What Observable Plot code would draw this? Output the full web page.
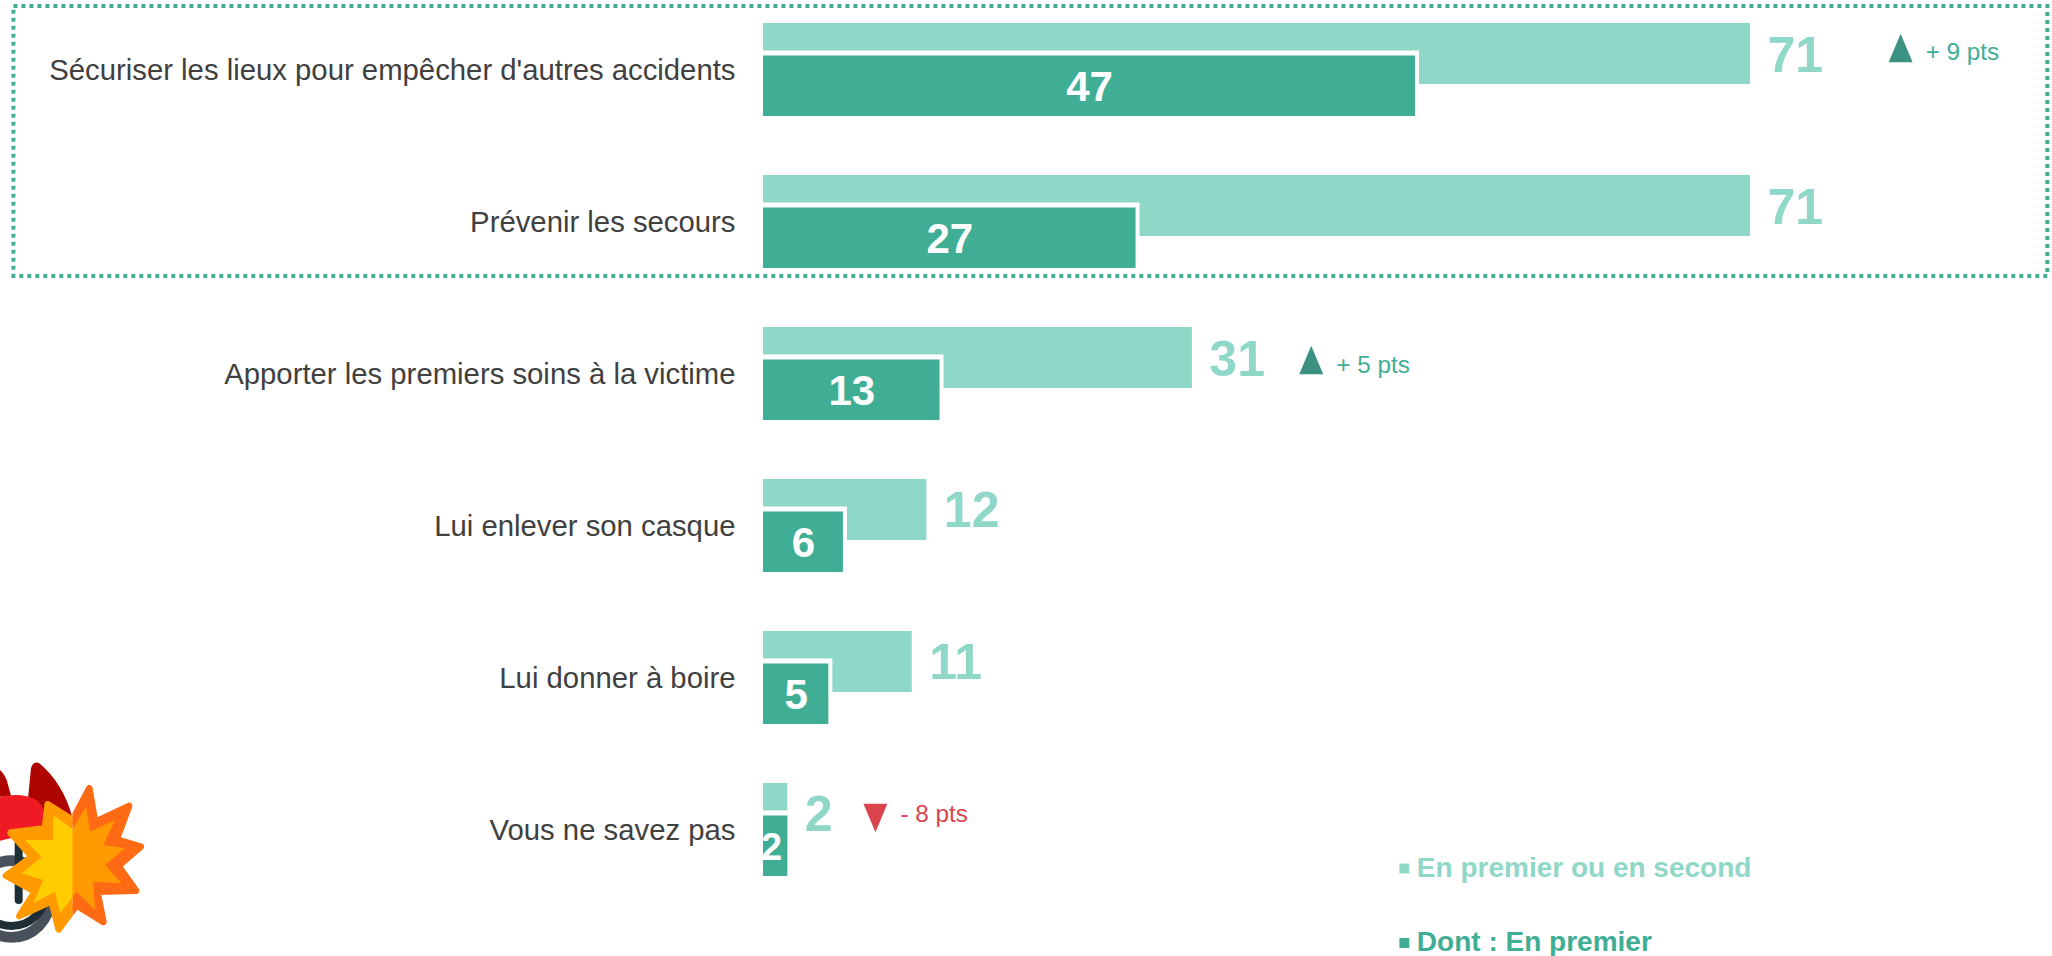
<!DOCTYPE html>
<html lang="fr">
<head>
<meta charset="utf-8">
<script src="https://cdn.jsdelivr.net/npm/d3@7"></script>
<script src="https://cdn.jsdelivr.net/npm/@observablehq/plot@0.6"></script>
<style>
html,body{margin:0;padding:0;background:#fff}
svg{display:block}
</style>
</head>
<body>
<div id="chart"></div>
<script>
const categories = [
  "Sécuriser les lieux pour empêcher d'autres accidents",
  "Prévenir les secours",
  "Apporter les premiers soins à la victime",
  "Lui enlever son casque",
  "Lui donner à boire",
  "Vous ne savez pas"
];
const barTotal = [71, 71, 30.85, 11.75, 10.7, 1.75];
const barFirst = [46.9, 26.8, 12.7, 5.75, 4.7, 1.75];
const labelTotal = ["71", "71", "31", "12", "11", "2"];
const labelFirst = ["47", "27", "13", "6", "5", "2"];

const deltaRows = [0, 2, 5];
const deltaPos = [81.8, 39.4, 8.05];
const deltaText = ["+ 9 pts", "+ 5 pts", "- 8 pts"];
const deltaDir = [1, 1, -1];

const legendLabels = ["En premier ou en second", "Dont : En premier"];

const LIGHT = "#8fd7c7", DARK = "#3fae94", UP = "#3d9180", DOWN = "#d9444d", INK = "#404040";
const FONT = "'Liberation Sans', Arial, sans-serif";

const rows = categories.map((c, i) => ({c, total: barTotal[i], first: barFirst[i], lt: labelTotal[i], lf: labelFirst[i]}));
const deltas = deltaRows.map((r, i) => ({c: categories[r], x: deltaPos[i], t: deltaText[i], d: deltaDir[i]}));
const triangleShift = [-22, -14, -12];
const deltaTextShift = [-17.5, -8.5, -16];

const triUp = {draw(ctx, size) { const s = Math.sqrt(size); ctx.moveTo(0, -s * 0.6); ctx.lineTo(s * 0.5, s * 0.6); ctx.lineTo(-s * 0.5, s * 0.6); ctx.closePath(); }};
const triDown = {draw(ctx, size) { const s = Math.sqrt(size); ctx.moveTo(0, s * 0.6); ctx.lineTo(s * 0.5, -s * 0.6); ctx.lineTo(-s * 0.5, -s * 0.6); ctx.closePath(); }};

const starOuter = "268,145 285,246 387,198 350,298 422,320 355,378 408,452 292,455 310,546 230,496 176,568 155,484 58,528 105,455 18,407 96,350 32,278 135,265 143,193 218,240";
const starInner = "258,200 270,275 345,240 310,315 375,325 315,375 365,430 280,425 285,510 230,455 180,520 165,455 100,490 130,420 65,400 125,352 75,300 160,300 160,225 218,268";
function icon() {
  const g = d3.create("svg:g").attr("transform", "translate(0,740) scale(0.33333)");
  g.html(`
    <defs>
      <clipPath id="halfL"><rect x="-40" y="100" width="258" height="520"/></clipPath>
      <clipPath id="halfR"><rect x="218" y="100" width="258" height="520"/></clipPath>
      <clipPath id="lowerRing"><rect x="-40" y="440" width="300" height="200"/></clipPath>
    </defs>
    <path d="M0,90 Q12,100 20,120 L34,170 L0,170Z" fill="#ae0500"/>
    <path d="M84,175 L93,85 Q100,60 118,70 Q190,130 218,235 L130,230Z" fill="#ae0500"/>
    <path d="M0,172 Q60,155 110,180 Q135,200 135,240 L135,280 L50,290 L0,302Z" fill="#f01a24"/>
    <circle cx="35" cy="477" r="115" fill="none" stroke="#47505b" stroke-width="32"/>
    <circle cx="35" cy="455" r="103" fill="none" stroke="#1f2f38" stroke-width="24" clip-path="url(#lowerRing)"/>
    <path d="M56,310 L56,480" stroke="#1f2f38" stroke-width="24" stroke-linecap="round"/>
    <g stroke-width="20" stroke-linejoin="round">
      <polygon points="${starOuter}" fill="#ff9a00" stroke="#ff9a00" clip-path="url(#halfL)"/>
      <polygon points="${starOuter}" fill="#ff6a14" stroke="#ff6a14" clip-path="url(#halfR)"/>
    </g>
    <polygon points="${starInner}" fill="#ffcc00" clip-path="url(#halfL)"/>
    <polygon points="${starInner}" fill="#ff9a00" clip-path="url(#halfR)"/>`);
  return g.node();
}

const chart = Plot.plot({
  width: 2052,
  height: 956,
  marginTop: 0, marginRight: 0, marginBottom: 0, marginLeft: 0,
  style: {fontFamily: FONT, background: "#fff"},
  x: {domain: [0, 71], range: [763, 1750], axis: null},
  y: {domain: categories, range: [23, 876], paddingInner: 0.388, paddingOuter: 0, round: false, label: null, axis: null},
  marks: [
    Plot.barX([0], {x1: -53.92, x2: 92.39, y: () => categories[0], insetTop: -17, insetBottom: -160, fill: "none", stroke: DARK, strokeWidth: 4, strokeDasharray: "4 4"}),
    Plot.barX(rows, {x1: 0, x2: "total", y: "c", insetBottom: 32, fill: LIGHT}),
    Plot.barX(rows.filter(d => d.first !== d.total), {x1: 0, x2: "first", y: "c", insetTop: 27.5, insetRight: -4, fill: "#fff"}),
    Plot.barX(rows.slice(-1), {x1: 0, x2: "first", y: "c", insetTop: 27.5, fill: "#fff"}),
    Plot.barX(rows, {x1: 0, x2: "first", y: "c", insetTop: 32.5, fill: DARK}),
    Plot.text(rows, {x: 0, y: "c", text: "c", dx: -28, dy: 1, textAnchor: "end", fontSize: 29.3, fill: INK}),
    Plot.text(rows, {x: "total", y: "c", text: "lt", dx: 17, dy: -14.5, textAnchor: "start", fontSize: 50, fontWeight: "bold", fill: LIGHT}),
    Plot.text(rows.slice(0, -1), {x: d => d.first / 2, y: "c", text: "lf", dy: 18, fontSize: 42, fontWeight: "bold", fill: "#fff"}),
    Plot.text(rows.slice(-1), {x: d => d.first / 2, y: "c", text: "lf", dx: -4, dy: 18, fontSize: 38, fontWeight: "bold", fill: "#fff"}),
    ...deltas.flatMap((d, i) => [
      Plot.dot([d], {x: "x", y: "c", dy: triangleShift[i], symbol: d.d > 0 ? triUp : triDown, r: 13.5, fill: d.d > 0 ? UP : DOWN, stroke: "none"}),
      Plot.text([d], {x: "x", y: "c", text: "t", dx: 25, dy: deltaTextShift[i], textAnchor: "start", fontSize: 24.3, fill: d.d > 0 ? DARK : DOWN})
    ]),
    Plot.dot([legendLabels[0]], {x: 46.1, y: () => categories[5], dy: 38.5, symbol: "square", r: 5.6, fill: LIGHT, stroke: "none"}),
    Plot.dot([legendLabels[1]], {x: 46.1, y: () => categories[5], dy: 113, symbol: "square", r: 5.6, fill: DARK, stroke: "none"}),
    Plot.text([legendLabels[0]], {x: 47, y: () => categories[5], text: d => d, dy: 38.5, textAnchor: "start", fontSize: 28, fontWeight: "bold", fill: LIGHT}),
    Plot.text([legendLabels[1]], {x: 47, y: () => categories[5], text: d => d, dy: 112.5, textAnchor: "start", fontSize: 28, fontWeight: "bold", fill: DARK}),
    icon
  ]
});
document.getElementById("chart").append(chart);
</script>
</body>
</html>
